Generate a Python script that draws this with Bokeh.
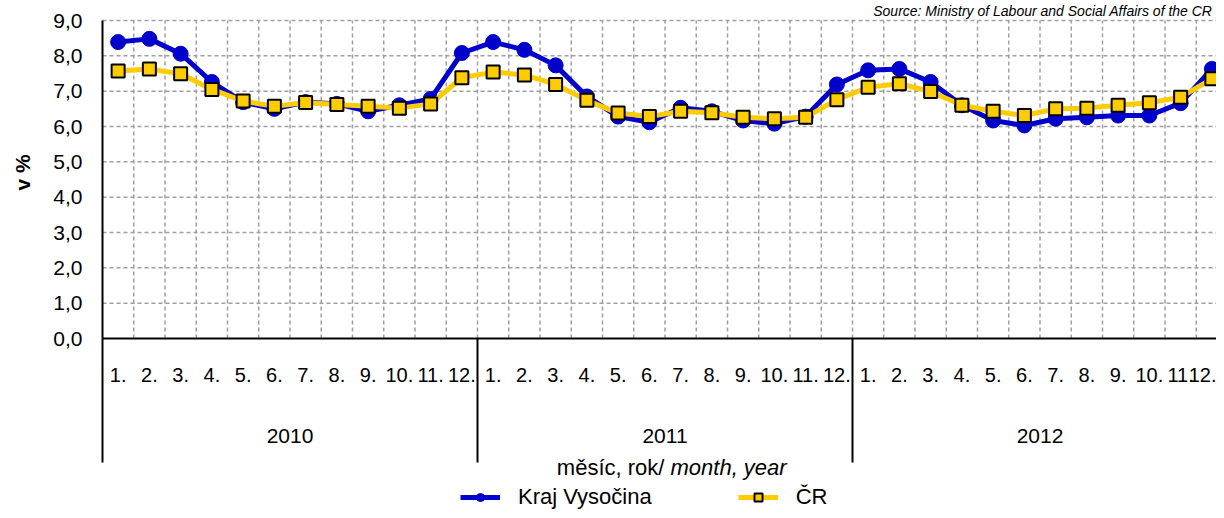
import math
from bokeh.plotting import figure
from bokeh.models import Range1d, FixedTicker, LinearAxis, Label, Legend, LegendItem
from bokeh.embed import file_html
from bokeh.resources import INLINE

# ---- data ----
years = ["2010", "2011", "2012"]
months = ["1.", "2.", "3.", "4.", "5.", "6.", "7.", "8.", "9.", "10.", "11.", "12."]
vysocina = [8.39, 8.48, 8.06, 7.26, 6.69, 6.50, 6.69, 6.64, 6.43, 6.60, 6.78, 8.08,
            8.39, 8.17, 7.73, 6.85, 6.28, 6.12, 6.53, 6.43, 6.17, 6.08, 6.28, 7.19,
            7.59, 7.63, 7.26, 6.60, 6.17, 6.03, 6.22, 6.26, 6.31, 6.31, 6.66, 7.63]
cr = [7.57, 7.63, 7.49, 7.05, 6.72, 6.57, 6.68, 6.62, 6.57, 6.52, 6.64, 7.38,
      7.54, 7.46, 7.19, 6.74, 6.38, 6.28, 6.43, 6.39, 6.26, 6.22, 6.26, 6.76,
      7.11, 7.21, 6.99, 6.60, 6.43, 6.31, 6.50, 6.52, 6.60, 6.67, 6.83, 7.35]
y_ticks = [0, 1, 2, 3, 4, 5, 6, 7, 8, 9]
series_names = ["Kraj Vysočina", "ČR"]
y_title = "v %"
x_title_a = "měsíc, rok/ "
x_title_b = "month, year"
source_text = "Source: Ministry of Labour and Social Affairs of the CR"

FONT = "Liberation Sans"
FS = "21px"
FS_MONTH = "20px"
FS_BIG = "22px"
BLUE = "#0000CC"
YELLOW = "#FFCC00"
GRID = "#A0A0A0"

n = len(years) * len(months)
xs = list(range(1, n + 1))
labels = [months[i % len(months)] for i in range(n)]
x_lo, x_hi = 0.5, n + 0.5
boundaries = [i + 0.5 for i in range(1, n + 1)]
year_bounds = [x_lo + len(months) * k for k in range(len(years) + 1)]
year_centers = [len(months) * k + (len(months) + 1) / 2 for k in range(len(years))]
y_lo, y_hi = y_ticks[0], y_ticks[-1]

# plot frame spans the whole canvas; axes sit at fixed locations inside it
W, H = 1216, 510
LEFT, TOP, BOTTOM = 102, 20, 338   # plot-area edges in canvas pixels
PX_X = 31.25      # px per month
PX_Y = (BOTTOM - TOP) / (y_hi - y_lo)
p = figure(width=W, height=H, output_backend="svg", toolbar_location=None,
           x_range=Range1d(x_lo - LEFT / PX_X, x_lo + (W - LEFT) / PX_X),
           y_range=Range1d(y_lo - (H - BOTTOM) / PX_Y, y_hi + TOP / PX_Y),
           min_border_left=0, min_border_right=0, min_border_top=0,
           min_border_bottom=0)
p.background_fill_color = "white"
p.border_fill_color = "white"
p.outline_line_color = None
p.xgrid.visible = False
p.ygrid.visible = False

# grid lines (dashed) within the plot area only
gy = y_ticks[1:]
p.segment(x0=[x_lo] * len(gy), x1=[x_hi] * len(gy), y0=gy, y1=gy,
          line_color=GRID, line_dash="4 3", line_width=1.5)
p.segment(x0=boundaries, x1=boundaries, y0=[y_lo] * len(boundaries),
          y1=[y_hi] * len(boundaries), line_color=GRID, line_dash="4 3", line_width=1.5)

# y axis
yax = p.yaxis[0]
yax.fixed_location = x_lo
yax.bounds = (y_lo, y_hi)
yax.ticker = FixedTicker(ticks=y_ticks)
yax.major_label_overrides = {t: f"{t},0" for t in y_ticks}
yax.major_tick_out = 0
yax.major_tick_in = 0
yax.minor_tick_line_color = None
yax.axis_line_width = 2
yax.axis_line_color = "black"
yax.major_label_text_font = FONT
yax.major_label_text_font_size = FS
yax.major_label_text_color = "black"
yax.major_label_standoff = 20

# month axis
xax = p.xaxis[0]
xax.fixed_location = y_lo
xax.bounds = (x_lo, x_hi)
xax.ticker = FixedTicker(ticks=xs)
xax.major_label_overrides = {x: l for x, l in zip(xs, labels)}
xax.major_tick_out = 0
xax.major_tick_in = 0
xax.minor_tick_line_color = None
xax.axis_line_width = 2
xax.axis_line_color = "black"
xax.major_label_text_font = FONT
xax.major_label_text_font_size = FS_MONTH
xax.major_label_text_color = "black"
xax.major_label_standoff = 29

# year separators
sep_ax = LinearAxis(fixed_location=y_lo, ticker=FixedTicker(ticks=year_bounds),
                    major_label_overrides={b: "" for b in year_bounds})
sep_ax.axis_line_color = None
sep_ax.minor_tick_line_color = None
sep_ax.major_tick_in = 0
sep_ax.major_tick_out = 124
sep_ax.major_tick_line_color = "black"
sep_ax.major_tick_line_width = 2
p.add_layout(sep_ax, "below")

# year axis
yr_ax = LinearAxis(fixed_location=y_lo, ticker=FixedTicker(ticks=year_centers),
                   major_label_overrides={c: y for c, y in zip(year_centers, years)})
yr_ax.axis_line_color = None
yr_ax.major_tick_line_color = None
yr_ax.minor_tick_line_color = None
yr_ax.major_label_text_font = FONT
yr_ax.major_label_text_font_size = FS
yr_ax.major_label_text_color = "black"
yr_ax.major_label_standoff = 84
p.add_layout(yr_ax, "below")

# series
rb_line = p.line(xs, vysocina, line_color=BLUE, line_width=5)
rb_pts = p.scatter(xs, vysocina, marker="circle", size=15, fill_color=BLUE, line_color=BLUE)
ry_line = p.line(xs, cr, line_color=YELLOW, line_width=5)
ry_pts = p.scatter(xs, cr, marker="square", size=13, fill_color=YELLOW,
                   line_color="black", line_width=2)

# y title
p.add_layout(Label(x=x_lo - 80 / PX_X, y=y_hi - 152 / PX_Y, text=y_title,
                   angle=math.pi / 2, text_align="center", text_baseline="middle",
                   text_font=FONT, text_font_size=FS, text_font_style="bold",
                   text_color="black"))

# x title (mixed upright / italic)
title_x = x_lo + 568 / PX_X
title_y = y_lo - 129 / PX_Y
p.add_layout(Label(x=title_x, y=title_y, text=x_title_a, text_align="right",
                   text_baseline="middle", text_font=FONT, text_font_size=FS_BIG,
                   text_color="black"))
p.add_layout(Label(x=title_x, y=title_y, text=x_title_b, text_align="left",
                   text_baseline="middle", text_font=FONT, text_font_size=FS_BIG,
                   text_font_style="italic", text_color="black"))

# source note, top right
p.add_layout(Label(x=x_lo + (W - 4 - LEFT) / PX_X, y=y_hi + 18 / PX_Y, text=source_text,
                   text_align="right", text_baseline="top", text_font=FONT,
                   text_font_size="14px", text_font_style="italic", text_color="black"))

legend = Legend(items=[LegendItem(label=series_names[0], renderers=[rb_line, rb_pts]),
                       LegendItem(label=series_names[1], renderers=[ry_line, ry_pts])],
                orientation="horizontal", location=(460, 0),
                glyph_width=40, glyph_height=20, label_standoff=18, spacing=86,
                padding=0, margin=0, border_line_color=None,
                background_fill_alpha=0, label_text_font=FONT,
                label_text_font_size=FS_BIG, label_text_color="black")
p.add_layout(legend, "center")

open("out.html", "w").write(file_html(p, INLINE))
